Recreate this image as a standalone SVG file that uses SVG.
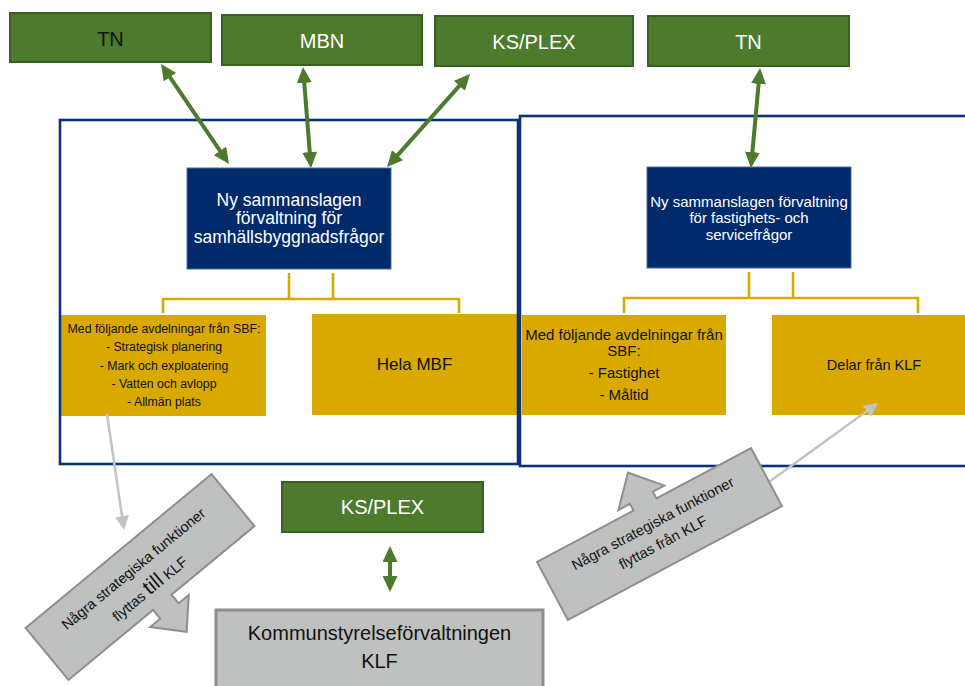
<svg xmlns="http://www.w3.org/2000/svg" width="965" height="686" viewBox="0 0 965 686">
<style>
  text { font-family: "Liberation Sans", Arial, sans-serif; text-anchor: middle; }
  .green { fill: #4d7a2c; stroke: #3b5f22; stroke-width: 2; }
  .blue { fill: #012a6b; stroke: #4a6aa5; stroke-width: 1; }
  .gold { fill: #d9a900; }
  .frame { fill: none; stroke: #0a3277; stroke-width: 2.6; }
  .gray { fill: #bfc0c0; stroke: #8e8e8e; stroke-width: 2; stroke-linejoin: miter; }
  .wt { fill: #ffffff; }
  .dk { fill: #111111; }
  .garrow { stroke: #4d7a2c; stroke-width: 4; fill: none; marker-start: url(#gh); marker-end: url(#gh); }
  .conn { stroke: #d9a900; stroke-width: 2.6; fill: none; }
  .grayline { stroke: #c3c3c3; stroke-width: 2.5; fill: none; marker-end: url(#grh); }
</style>
<defs>
  <marker id="gh" viewBox="0 0 16 15" refX="11" refY="7.5" markerWidth="16" markerHeight="15" markerUnits="userSpaceOnUse" orient="auto-start-reverse">
    <path d="M0,0 L16,7.5 L0,15 z" fill="#4d7a2c"/>
  </marker>
  <marker id="grh" viewBox="0 0 14 14" refX="11" refY="7" markerWidth="14" markerHeight="14" markerUnits="userSpaceOnUse" orient="auto">
    <path d="M0,0 L14,7 L0,14 z" fill="#c3c3c3"/>
  </marker>
</defs>

<!-- yellow boxes -->
<g id="sbf-left">
  <rect class="gold" x="61" y="315" width="205" height="101"/>
  <text class="dk" font-size="12.3"><tspan x="164" y="333">Med följande avdelningar från SBF:</tspan><tspan x="164" y="351">- Strategisk planering</tspan><tspan x="164" y="369.5">- Mark och exploatering</tspan><tspan x="164" y="388">- Vatten och avlopp</tspan><tspan x="164" y="406">- Allmän plats</tspan></text>
</g>
<g id="hela-mbf">
  <rect class="gold" x="312" y="314" width="205" height="101"/>
  <text class="dk" x="414.5" y="370" font-size="17">Hela MBF</text>
</g>
<g id="sbf-right">
  <rect class="gold" x="522" y="315" width="204" height="100"/>
  <text class="dk" font-size="15"><tspan x="624" y="340">Med följande avdelningar från</tspan><tspan x="624" y="356">SBF:</tspan><tspan x="624" y="378">- Fastighet</tspan><tspan x="624" y="400">- Måltid</tspan></text>
</g>
<g id="delar-klf">
  <rect class="gold" x="772" y="315" width="200" height="100"/>
  <text class="dk" x="874" y="370" font-size="14.5">Delar från KLF</text>
</g>

<!-- frames -->
<g id="frame-left"><rect class="frame" x="60" y="120" width="458" height="344"/></g>
<g id="frame-right"><rect class="frame" x="520" y="116" width="460" height="350"/></g>

<!-- green boxes -->
<g id="tn-left">
  <rect class="green" x="10" y="13" width="201" height="49"/>
  <text x="110.5" y="46" font-size="20" fill="#111111">TN</text>
</g>
<g id="mbn">
  <rect class="green" x="222" y="15" width="200" height="50"/>
  <text class="wt" x="322" y="48" font-size="20">MBN</text>
</g>
<g id="ksplex-top">
  <rect class="green" x="435" y="16" width="198" height="50"/>
  <text class="wt" x="534" y="49" font-size="20">KS/PLEX</text>
</g>
<g id="tn-right">
  <rect class="green" x="648" y="16" width="201" height="50"/>
  <text class="wt" x="748.5" y="49" font-size="20">TN</text>
</g>
<g id="ksplex-bottom">
  <rect class="green" x="282" y="482" width="201" height="50"/>
  <text class="wt" x="382.5" y="514" font-size="20">KS/PLEX</text>
</g>

<!-- blue boxes -->
<g id="sbf-ny">
  <rect class="blue" x="187" y="168" width="204" height="101"/>
  <text class="wt" font-size="17.5"><tspan x="289" y="205.5">Ny sammanslagen</tspan><tspan x="289" y="224.3">förvaltning för</tspan><tspan x="289" y="243">samhällsbyggnadsfrågor</tspan></text>
</g>
<g id="fsf-ny">
  <rect class="blue" x="647" y="167" width="204" height="101"/>
  <text class="wt" font-size="15"><tspan x="749" y="206.5">Ny sammanslagen förvaltning</tspan><tspan x="749" y="223">för fastighets- och</tspan><tspan x="749" y="239.5">servicefrågor</tspan></text>
</g>

<!-- KLF -->
<g id="klf">
  <rect x="216" y="610" width="327" height="82" fill="#bfc0c0" stroke="#8e8e8e" stroke-width="3"/>
  <text class="dk" font-size="20"><tspan x="379.5" y="640">Kommunstyrelseförvaltningen</tspan><tspan x="379.5" y="668">KLF</tspan></text>
</g>

<!-- connectors -->
<g id="connectors">
  <path class="conn" d="M289,273 V299 M333,273 V299 M163,313 V299 H459 V313"/>
  <path class="conn" d="M749,272 V298 M793,272 V298 M624,313 V298 H918 V313"/>
  <line class="garrow" x1="163.8" y1="68.1" x2="226.2" y2="159.9"/>
  <line class="garrow" x1="303.4" y1="72" x2="310.6" y2="163"/>
  <line class="garrow" x1="466.7" y1="77.7" x2="390.3" y2="163.3"/>
  <line class="garrow" x1="759.6" y1="73" x2="751.4" y2="163"/>
  <line class="garrow" x1="390" y1="551" x2="390" y2="587" stroke-width="5"/>
  <line class="grayline" x1="107" y1="414" x2="123.6" y2="527"/>
  <line class="grayline" x1="762" y1="487" x2="875.6" y2="404.8"/>
</g>

<!-- gray moving-arrows -->
<g id="move-to-klf" transform="translate(140,577) rotate(-39.6)">
  <polygon class="gray" points="-120.7,-33.7 120.7,-33.7 120.7,33.7 13,33.7 13,45 26,45 1,72 -24,45 -11,45 -11,33.7 -120.7,33.7"/>
  <text class="dk" x="0" y="-5.5" font-size="14.5">Några strategiska funktioner</text>
  <text class="dk" x="0" y="20.5" font-size="14.5">flyttas <tspan font-size="21">till</tspan> KLF</text>
</g>
<g id="move-from-klf" transform="translate(659.5,534) rotate(-28)">
  <polygon class="gray" points="-121.2,32.9 -121.2,-32.9 -12,-32.9 -12,-40.5 -25,-40.5 1,-69 27,-40.5 14,-40.5 14,-32.9 121.2,-32.9 121.2,32.9"/>
  <text class="dk" x="-1" y="-7.5" font-size="14.5">Några strategiska funktioner</text>
  <text class="dk" x="-1" y="14" font-size="14.5">flyttas från KLF</text>
</g>
</svg>
